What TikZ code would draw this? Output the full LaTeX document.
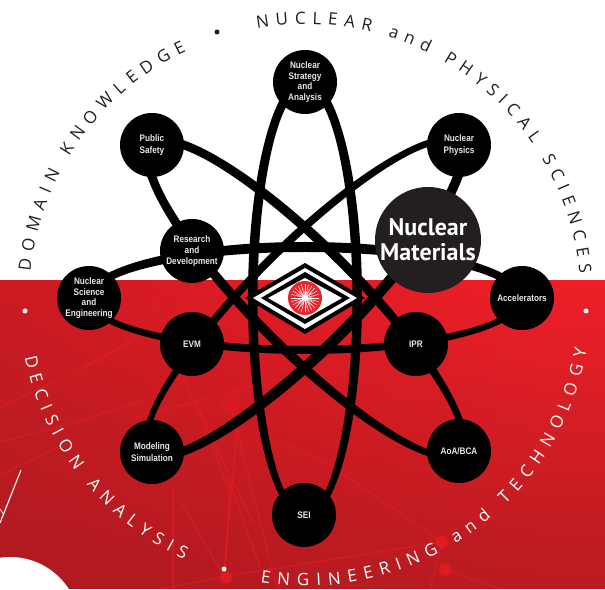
\documentclass[tikz,border=0pt]{standalone}
\usepackage{fontspec}
\usetikzlibrary{decorations.text,fadings,shadings,calc}
\newfontfamily\arcfont{Open Sans}
\newfontfamily\orbfont[FakeStretch=0.86]{Liberation Sans}
\newfontfamily\bigfont{PT Sans}
\definecolor{bandL}{HTML}{B41C22}
\definecolor{bandM}{HTML}{E01C25}
\definecolor{bandR}{HTML}{EE1F27}
\definecolor{bandD}{HTML}{9C1A1E}
\definecolor{glow}{HTML}{EE1C25}
\definecolor{inkdark}{HTML}{231F20}
\definecolor{labelgrey}{HTML}{E8E8E8}
\definecolor{sunred}{HTML}{E6252C}
\pgfdeclarehorizontalshading{redband}{100bp}{color(0bp)=(bandL);color(45bp)=(bandM);color(70bp)=(bandR);color(100bp)=(bandR)}
\tikzfading[name=downdark,top color=transparent!100,middle color=transparent!100,bottom color=transparent!35]
\tikzset{
  orb/.style={circle,fill=black,minimum size=64pt,inner sep=0pt,align=center,text=labelgrey,
    font=\orbfont\bfseries\fontsize{9.5}{10.8}\selectfont},
  bigorb/.style={circle,fill=inkdark,minimum size=106pt,inner sep=0pt,align=center,text=white,
    font=\bigfont\bfseries\fontsize{24}{25}\selectfont},
  beam/.style={glow,line width=1.3pt,opacity=.5},
  dotmark/.style={circle,minimum size=5pt,inner sep=0pt},
}
% orbit: centre, rotation, A, B (outer), da, db, shiftx, shifty (inner)
\newcommand{\atomorbit}[8]{%
  \fill[black,even odd rule,shift={#1},rotate=#2]
    (0,0) ellipse[x radius=#3pt,y radius=#4pt]
    (#7,#8) ellipse[x radius={#3-#5},y radius={#4-#6}];}
\newcommand{\arcwords}[5]{%
  \path[decorate,decoration={text along path,text align={fit to path},
     text={|\arcfont\fontsize{17}{17}\selectfont\color{#5}|#4}}]
     ($(305,289)+(#1:#3)$) arc[start angle=#1,end angle=#2,radius=#3];}
\begin{document}
\begin{tikzpicture}[x=1pt,y=1pt]
\useasboundingbox (0,0) rectangle (605,589);
\fill[white] (0,0) rectangle (605,589);
\shade[shading=redband] (0,0) rectangle (605,308);
\fill[bandD,path fading=downdark] (0,0) rectangle (605,308);
% faint beams of the backdrop
\begin{scope}
\clip (0,0) rectangle (605,308);
\draw[beam] (0,182)--(100,229)--(133,249);
\draw[beam] (0,147)--(55,161)--(147,189);
\draw[beam] (0,114)--(58,142);
\draw[beam] (83,222)--(133,249)--(200,290);
\draw[beam] (150,296)--(160,272)--(187,202);
\draw[beam] (173,99)--(173,0);
\draw[beam] (187,202)--(253,66);
\draw[beam] (230,186)--(277,0);
\draw[beam] (224,12)--(230,96)--(200,179);
\draw[beam] (224,12)--(237,159);
\draw[beam] (228,112)--(260,22);
\draw[beam] (180,89)--(224,12);
\draw[beam] (233,14)--(442,47);
\draw[beam] (442,47)--(333,122)--(277,149);
\draw[beam] (445,19)--(500,0);
\draw[beam] (442,47)--(430,0);
\draw[beam] (224,12)--(160,0);
\draw[beam] (130,170)--(300,215);
\fill[glow,opacity=.7] (226,12) circle[radius=6pt];
\fill[glow,opacity=.7] (442,47) circle[radius=6pt];
\fill[glow,opacity=.7] (445,19) circle[radius=6pt];
\fill[glow,opacity=.3] (230,186) circle[radius=9pt];
\end{scope}
% remnants at the lower left
\fill[white] (10,-38) circle[radius=70pt];
\draw[white,line width=1.1pt] (21,119)--(0,66);
\draw[white,line width=.8pt] (0,80)--(4,74);
% orbits
\atomorbit{(305,291)}{90}{221}{57}{10}{9.5}{-2.5}{0}
\atomorbit{(305,291)}{0}{220}{56}{9}{9}{0}{-1}
\atomorbit{(305,291)}{-45}{222}{56}{10}{9.5}{2.5}{0}
\atomorbit{(305,291)}{45}{222}{56}{10}{9.5}{-1}{1.5}
% central emblem
\fill[black] (245,291)--(305,326)--(365,291)--(305,255)--cycle;
\fill[white] (253,291)--(305,321)--(357,291)--(305,260)--cycle;
\fill[black] (261,291)--(305,317)--(350,291)--(305,265)--cycle;
\fill[white] (268,291)--(305,311)--(342,291)--(305,270)--cycle;
\fill[sunred] (305,291) circle[radius=17pt];
\foreach \a in {0,15,...,345}{\draw[white,line width=.45pt] (305,291)--++(\a:14);}
\foreach \a in {7.5,37.5,...,345}{\draw[white,line width=.35pt] (305,291)--++(\a:9);}
\fill[white] (305,291) circle[radius=3pt];
% hubs
\node[orb] (strategy) at (305,507) {Nuclear\\Strategy\\and\\Analysis};
\node[orb] (public) at (152,444) {Public\\[1.5pt]Safety};
\node[orb] (physics) at (459,444) {Nuclear\\[1.5pt]Physics};
\node[orb] (research) at (192,338) {Research\\and\\Development};
\node[orb] (science) at (89,291) {Nuclear\\Science\\and\\Engineering};
\node[orb] (evm) at (192,245) {EVM};
\node[orb] (ipr) at (416,245) {IPR};
\node[orb] (accel) at (522,291) {Accelerators};
\node[orb] (model) at (152,137) {Modeling\\[1.5pt]Simulation};
\node[orb] (aoa) at (459,138) {AoA/BCA};
\node[orb] (sei) at (304,74) {SEI};
\node[bigorb] (materials) at (428,349) {Nuclear\\Materials};
% ring of words
\arcwords{174}{115.5}{276}{DOMAIN KNOWLEDGE}{inkdark}
\arcwords{100}{5.5}{276}{NUCLEAR and PHYSICAL SCIENCES}{inkdark}
\arcwords{191.5}{245}{286}{DECISION ANALYSIS}{white}
\arcwords{261}{350}{286}{ENGINEERING and TECHNOLOGY}{white}
\node[dotmark,fill=inkdark] (dota) at (217,557) {};
\node[dotmark,fill=white] (dotb) at (25,278) {};
\node[dotmark,fill=white] (dotc) at (586,278) {};
\node[dotmark,fill=white] (dotd) at (224,20) {};
\end{tikzpicture}
\end{document}
